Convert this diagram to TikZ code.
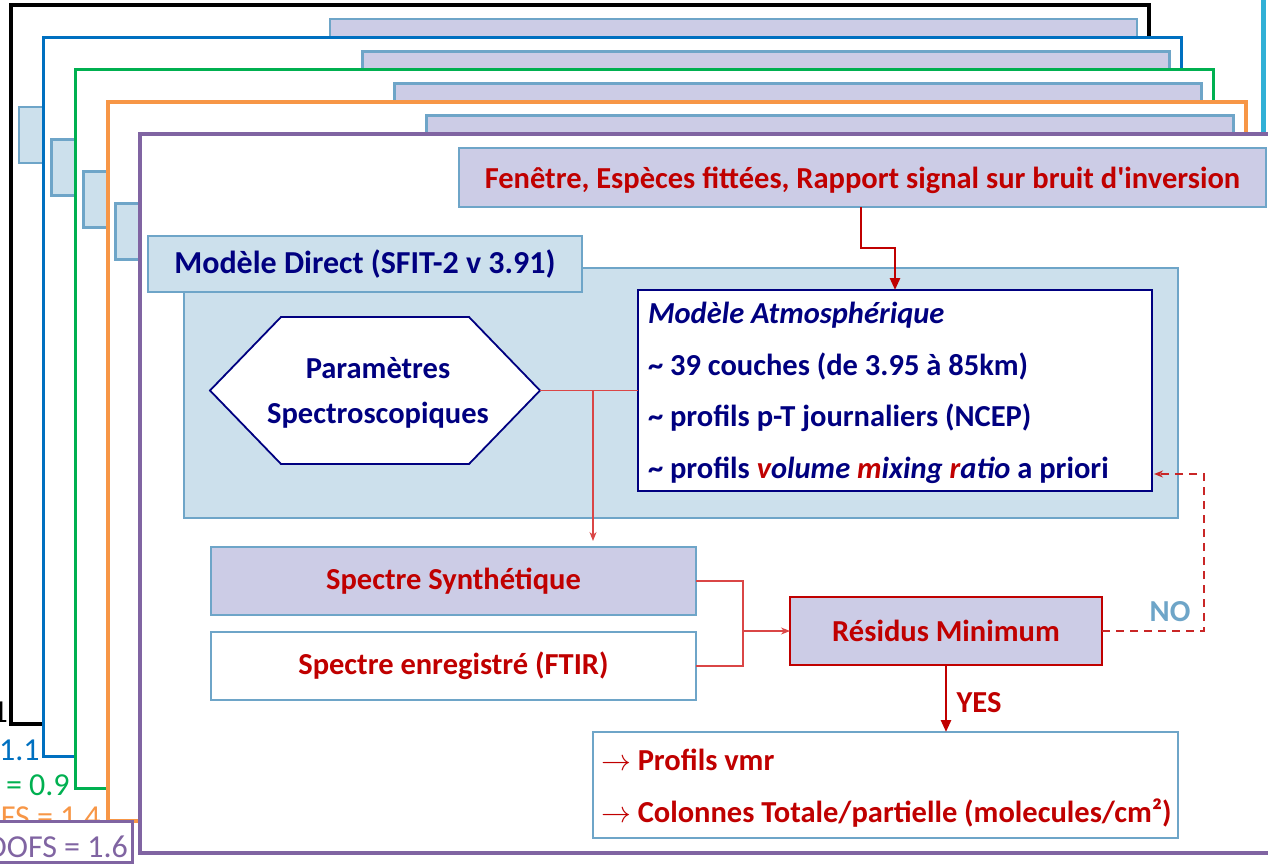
\documentclass[tikz,border=0pt]{standalone}
\usepackage{fontspec}
\setmainfont{Carlito}[Ligatures=TeXOff]
\usepackage{graphicx}
\usetikzlibrary{arrows.meta}

\definecolor{lav}{RGB}{204,204,230}
\definecolor{skyfill}{RGB}{204,224,236}
\definecolor{steel}{RGB}{110,165,200}
\definecolor{navy}{RGB}{0,0,128}
\definecolor{dred}{RGB}{192,0,0}
\definecolor{lred}{RGB}{218,70,70}
\definecolor{fblue}{RGB}{0,112,192}
\definecolor{fgreen}{RGB}{0,176,80}
\definecolor{forange}{RGB}{247,150,70}
\definecolor{fpurple}{RGB}{128,100,162}
\definecolor{cyanbar}{RGB}{49,176,214}

\tikzset{
  frame/.style={line width=3.5pt, fill=white},
  tabbox/.style={draw=steel, fill=skyfill, line width=2.7pt},
  lavbox/.style={draw=steel, fill=lav, line width=2.7pt},
  box/.style={rectangle, inner sep=0pt, outer sep=0pt},
  txt/.style={inner sep=0pt, outer sep=0pt},
  fsz/.style={font=\fontsize{#1}{36}\selectfont\bfseries},
  dofs/.style={font=\fontsize{32}{38}\selectfont, inner sep=0pt, anchor=base east},
  thin/.style={draw=lred, line width=1.2pt},
  thinarrow/.style={thin, -{Stealth[length=9pt,width=7pt]}},
  thickarrow/.style={draw=dred, line width=2.6pt, -{Triangle[length=12pt,width=10pt]}},
}

% result arrow in front of the output lines
\newcommand{\outarrow}{\scalebox{1.2}{$\rightarrow$}}

% one of the stacked result sheets behind the front one
\newcommand{\backsheet}[2]{%
  \begin{scope}[shift={(-#2,-#2)}]
    \filldraw[frame, draw=#1] (140,134) rectangle (1278,853);
    \filldraw[tabbox] (148,236) rectangle (582,292);
    \filldraw[lavbox] (459,148) rectangle (1266,207);
  \end{scope}}

\begin{document}
\begin{tikzpicture}[x=1pt, y=-1pt]
\useasboundingbox (0,0) rectangle (1268,865);
\clip (0,0) rectangle (1268,865);

\fill[cyanbar] (1261,0) rectangle (1266,134);

% stacked sheets and their DOFS values
\backsheet{black}{129}
\node[dofs, text=black] (d1) at (8,722) {DOFS = 1};
\backsheet{fblue}{96.75}
\node[dofs, text=fblue] (d2) at (40,760) {DOFS = 1.1};
\backsheet{fgreen}{64.5}
\node[dofs, text=fgreen] (d3) at (70,795) {DOFS = 0.9};
\backsheet{forange}{32.25}
\node[dofs, text=forange] (d4) at (101,827) {DOFS = 1.4};

% front sheet
\filldraw[frame, draw=fpurple] (140,134) rectangle (1278,853);
\node[draw=fpurple, fill=white, line width=3pt, text=fpurple, font=\fontsize{32}{38}\selectfont,
      inner xsep=4pt, inner ysep=3pt, text height=33pt, text depth=2pt,
      anchor=north east, outer sep=0pt] (d5) at (132,821) {DOFS = 1.6};

\node[box, lavbox, minimum width=807pt, minimum height=59pt, text=dred, fsz=30.5]
  (fen) at (862.5,177.5) {\raisebox{-3pt}[\height][\depth]{Fenêtre, Espèces fittées, Rapport signal sur bruit d'inversion}};

% forward model block
\node[box, tabbox, minimum width=994pt, minimum height=250pt] (direct) at (681,393) {};
\node[box, tabbox, minimum width=434pt, minimum height=56pt, text=navy, fsz=32]
  (tab) at (365,264) {Modèle Direct (SFIT-2 v 3.91)};

\node[box, minimum width=330pt, minimum height=147pt] (hex) at (375,390.5) {};
\filldraw[draw=navy, fill=white, line width=1.8pt]
  (hex.west) -- ([xshift=71pt]hex.north west) -- ([xshift=-71pt]hex.north east)
  -- (hex.east) -- ([xshift=-71pt]hex.south east) -- ([xshift=71pt]hex.south west) -- cycle;
\node[txt, text=navy, align=center, font=\fontsize{30.5}{45}\selectfont\bfseries]
  (hextxt) at (378,393) {Paramètres\\Spectroscopiques};

\node[box, draw=navy, fill=white, line width=1.8pt, minimum width=514pt, minimum height=201pt]
  (atm) at (895,390.5) {};
\node[txt, anchor=base west, text=navy, fsz=30.5] (a1) at (648,323) {\textit{Modèle Atmosphérique}};
\node[txt, anchor=base west, text=navy, fsz=30.5] (a2) at (648,375) {\textasciitilde{} 39 couches (de 3.95 à 85km)};
\node[txt, anchor=base west, text=navy, fsz=30.5] (a3) at (648,426) {\textasciitilde{} profils p-T journaliers (NCEP)};
\node[txt, anchor=base west, text=navy, fsz=30.5] (a4) at (648,478)
  {\textasciitilde{} profils \textit{{\color{dred}v}olume {\color{dred}m}ixing {\color{dred}r}atio} a priori};

% spectra and comparison
\node[box, lavbox, minimum width=485pt, minimum height=68pt, text=dred, fsz=30.5]
  (synth) at (453.5,581) {Spectre Synthétique};
\node[box, tabbox, fill=white, minimum width=485pt, minimum height=68pt, text=dred, fsz=30.5]
  (rec) at (453.5,666) {Spectre enregistré (FTIR)};
\node[box, draw=dred, fill=lav, line width=2.6pt, minimum width=312pt, minimum height=68pt,
      text=dred, fsz=30.5] (res) at (946,631) {Résidus Minimum};

\node[box, tabbox, fill=white, minimum width=585pt, minimum height=106pt] (out) at (885.5,785) {};
\node[txt, anchor=base west, text=dred, fsz=30.5] (o1) at (601,770) {\outarrow{} Profils vmr};
\node[txt, anchor=base west, text=dred, fsz=30.5] (o2) at (601,822) {\outarrow{} Colonnes Totale/partielle (molecules/cm²)};

\node[txt, text=steel, fsz=30.5] (no) at (1170,612) {NO};
\node[txt, text=dred, fsz=30.5] (yes) at (979,703) {YES};

% connectors
\draw[thickarrow] (fen.south -| 861,0) -- ++(0,41) -| (atm.north);
\draw[thin] (hex.east) -- (atm.west);
\coordinate (split) at (593,390.5);
\draw[thinarrow, shorten >=6pt] (split) -- (split |- synth.north);
\coordinate (join) at (743,631);
\draw[thin] (synth.east) -| (join) |- (rec.east);
\draw[thinarrow] (join) -- (res.west);
\coordinate (back) at (1204,474);
\draw[draw=dred!85!white, line width=2pt, dash pattern=on 8pt off 6pt,
      -{Stealth[length=9pt,width=7pt]}, shorten >=2pt]
  (res.east) -| (back) -- (atm.east |- back);
\draw[thickarrow] (res.south) -- (res.south |- out.north);

\end{tikzpicture}
\end{document}
